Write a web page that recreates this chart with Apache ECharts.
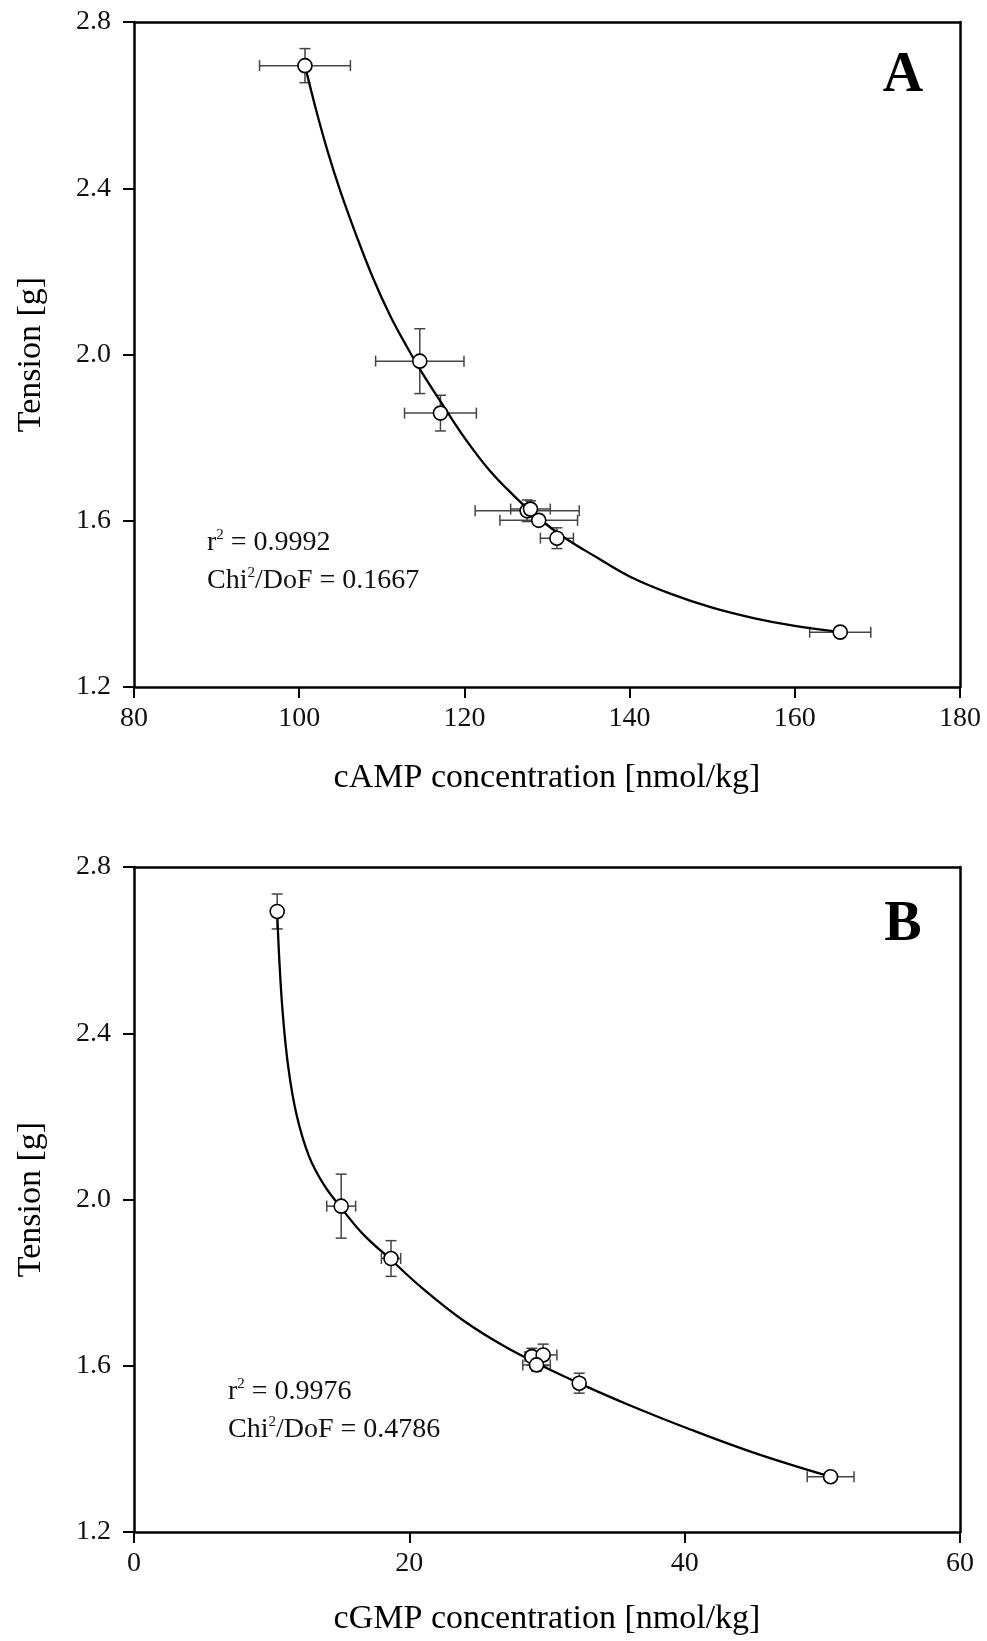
<!DOCTYPE html>
<html>
<head>
<meta charset="utf-8">
<title>Tension vs cAMP / cGMP concentration</title>
<script src="https://cdn.jsdelivr.net/npm/echarts@6/dist/echarts.min.js"></script>
<style>
  html, body { margin: 0; padding: 0; background: #fff; }
  #chart { width: 987px; height: 1641px; }
</style>
</head>
<body>
<div id="chart"></div>
<script>
// panel A - cAMP
var campX = [100.7, 114.6, 117.1, 127.6, 128.0, 129.0, 131.2, 165.5];
var campXErr = [5.5, 5.35, 4.35, 6.3, 2.4, 4.7, 2.0, 3.7];
var tensionA = [2.695, 1.984, 1.859, 1.624, 1.628, 1.601, 1.558, 1.332];
var tensionAErr = [0.041, 0.078, 0.043, 0.026, 0.02, 0.012, 0.025, 0.011];
// fitted curve
var fitAX = [100.7, 102, 103.5, 105, 107, 109, 111, 113, 115, 117.5, 120, 123, 126, 129, 132, 136, 140, 145, 150, 155, 160, 165.5];
var fitAY = [2.695, 2.592, 2.485, 2.392, 2.282, 2.181, 2.094, 2.020, 1.952, 1.875, 1.800, 1.722, 1.660, 1.606, 1.561, 1.512, 1.466, 1.424, 1.391, 1.366, 1.347, 1.332];

// panel B - cGMP
var cgmpX = [10.4, 15.05, 18.67, 28.9, 29.72, 29.24, 32.34, 50.6];
var cgmpXErr = [0.3, 1.05, 0.7, 0.5, 1.0, 1.0, 0.4, 1.7];
var tensionB = [2.693, 1.984, 1.858, 1.622, 1.626, 1.602, 1.558, 1.333];
var tensionBErr = [0.042, 0.077, 0.043, 0.02, 0.026, 0.015, 0.024, 0.01];
var fitBX = [10.4, 10.55, 10.8, 11.2, 11.8, 12.7, 13.8, 15.05, 16.6, 18.67, 21, 24, 27, 30, 33, 36, 40, 45, 50.6];
var fitBY = [2.693, 2.580, 2.450, 2.320, 2.205, 2.105, 2.035, 1.980, 1.918, 1.855, 1.785, 1.707, 1.645, 1.594, 1.548, 1.505, 1.452, 1.391, 1.333];

var xTicksA = [80, 100, 120, 140, 160, 180];
var xTicksB = [0, 20, 40, 60];
var yTicks = [1.2, 1.6, 2.0, 2.4, 2.8];

var serif = "'Liberation Serif', 'Times New Roman', serif";
var chart = echarts.init(document.getElementById("chart"));

function pack(xs, ys, ex, ey) {
  return xs.map(function (v, i) { return [v, ys[i], ex[i], ey[i]]; });
}
function pairs(xs, ys) {
  return xs.map(function (v, i) { return [v, ys[i]]; });
}

// error bars with caps
function renderErr(params, api) {
  var x = api.value(0), y = api.value(1), ex = api.value(2), ey = api.value(3);
  var cap = 5.5;
  var st = { stroke: "#444", lineWidth: 1.5 };
  var kids = [];
  if (ex > 0) {
    var l = api.coord([x - ex, y]), r = api.coord([x + ex, y]);
    kids.push({ type: "line", shape: { x1: l[0], y1: l[1], x2: r[0], y2: r[1] }, style: st });
    kids.push({ type: "line", shape: { x1: l[0], y1: l[1] - cap, x2: l[0], y2: l[1] + cap }, style: st });
    kids.push({ type: "line", shape: { x1: r[0], y1: r[1] - cap, x2: r[0], y2: r[1] + cap }, style: st });
  }
  if (ey > 0) {
    var t = api.coord([x, y + ey]), b = api.coord([x, y - ey]);
    kids.push({ type: "line", shape: { x1: t[0], y1: t[1], x2: b[0], y2: b[1] }, style: st });
    kids.push({ type: "line", shape: { x1: t[0] - cap, y1: t[1], x2: t[0] + cap, y2: t[1] }, style: st });
    kids.push({ type: "line", shape: { x1: b[0] - cap, y1: b[1], x2: b[0] + cap, y2: b[1] }, style: st });
  }
  return { type: "group", children: kids };
}

function bottomAxis(grid, min, max, name, gap) {
  return {
    type: "value", gridIndex: grid, position: "bottom",
    min: min, max: max, interval: 20,
    name: name, nameLocation: "middle", nameGap: gap,
    nameTextStyle: { fontFamily: serif, fontSize: 34, color: "#000" },
    axisLine: { show: true, lineStyle: { color: "#000", width: 2.5 } },
    axisTick: { show: true, length: 11, lineStyle: { color: "#000", width: 2 } },
    axisLabel: { margin: 18, fontFamily: serif, fontSize: 28, color: "#111" },
    splitLine: { show: false }
  };
}
function leftAxis(grid) {
  return {
    type: "value", gridIndex: grid, position: "left",
    min: 1.2, max: 2.8, interval: 0.4,
    name: "Tension [g]", nameLocation: "middle", nameGap: 86,
    nameTextStyle: { fontFamily: serif, fontSize: 34, color: "#000" },
    axisLine: { show: true, lineStyle: { color: "#000", width: 2.5 } },
    axisTick: { show: true, length: 11, lineStyle: { color: "#000", width: 2 } },
    axisLabel: {
      margin: 23, fontFamily: serif, fontSize: 28, color: "#111",
      formatter: function (v) { return v.toFixed(1); }
    },
    splitLine: { show: false }
  };
}
function frameAxis(kind, grid, min, max) {
  return {
    type: "value", gridIndex: grid, position: kind, min: min, max: max,
    axisLine: { show: true, onZero: false, lineStyle: { color: "#000", width: 2.5 } },
    axisTick: { show: false }, axisLabel: { show: false }, splitLine: { show: false }
  };
}

function panelSeries(ax, data, fitX, fitY) {
  return [
    {
      type: "custom", xAxisIndex: ax, yAxisIndex: ax, z: 1,
      renderItem: renderErr, encode: { x: 0, y: 1 },
      data: data, silent: true
    },
    {
      type: "line", xAxisIndex: ax, yAxisIndex: ax, z: 2,
      data: pairs(fitX, fitY), smooth: 0.4, showSymbol: false,
      lineStyle: { color: "#000", width: 2.3 }, silent: true
    },
    {
      type: "scatter", xAxisIndex: ax, yAxisIndex: ax, z: 3,
      data: data.map(function (d) { return [d[0], d[1]]; }),
      symbol: "circle", symbolSize: 14,
      itemStyle: { color: "#fff", borderColor: "#000", borderWidth: 1.6, opacity: 1 }
    }
  ];
}

var rich = {
  n: { fontFamily: serif, fontSize: 28, lineHeight: 30, fill: "#111" },
  s: { fontFamily: serif, fontSize: 15, lineHeight: 15, verticalAlign: "top", fill: "#111" }
};
function stat(x, y, txt) {
  return { type: "text", x: x, y: y, style: { text: txt, rich: rich, fontFamily: serif, fontSize: 28, fill: "#111", verticalAlign: "top" } };
}
function tag(x, y, letter) {
  return { type: "text", x: x, y: y, style: { text: letter, fontFamily: serif, fontWeight: "bold", fontSize: 56, fill: "#000", align: "center", verticalAlign: "middle" } };
}

var option = {
  backgroundColor: "#fff",
  animation: false,
  grid: [
    { left: 134, top: 22, width: 826, height: 665 },
    { left: 134, top: 867, width: 826, height: 665 }
  ],
  xAxis: [
    bottomAxis(0, 80, 180, "cAMP concentration [nmol/kg]", 74),
    bottomAxis(1, 0, 60, "cGMP concentration [nmol/kg]", 70),
    frameAxis("top", 0, 80, 180),
    frameAxis("top", 1, 0, 60)
  ],
  yAxis: [
    leftAxis(0),
    leftAxis(1),
    frameAxis("right", 0, 1.2, 2.8),
    frameAxis("right", 1, 1.2, 2.8)
  ],
  series: [].concat(
    panelSeries(0, pack(campX, tensionA, campXErr, tensionAErr), fitAX, fitAY),
    panelSeries(1, pack(cgmpX, tensionB, cgmpXErr, tensionBErr), fitBX, fitBY)
  ),
  graphic: [
    stat(207, 528, "{n|r}{s|2}{n| = 0.9992}"),
    stat(207, 566, "{n|Chi}{s|2}{n|/DoF = 0.1667}"),
    stat(228, 1377, "{n|r}{s|2}{n| = 0.9976}"),
    stat(228, 1415, "{n|Chi}{s|2}{n|/DoF = 0.4786}"),
    tag(903, 77, "A"),
    tag(903, 926, "B")
  ]
};
chart.setOption(option);
window.addEventListener("resize", function () { chart.resize(); });
</script>
</body>
</html>
